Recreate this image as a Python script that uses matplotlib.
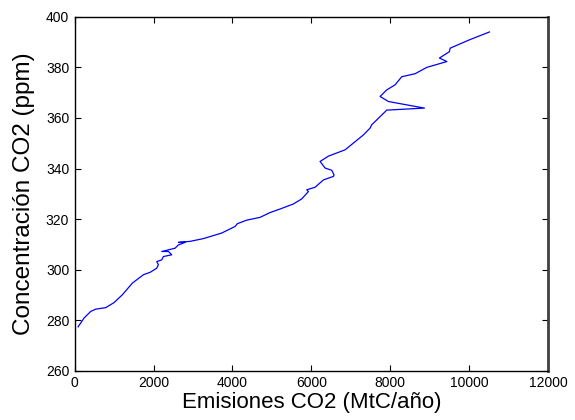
import matplotlib
matplotlib.use("Agg")
from matplotlib import pyplot as plt

plt.rcParams['font.family'] = ['Liberation Sans', 'DejaVu Sans']

# emissions (MtC/yr) vs atmospheric concentration (ppm), in time order
emisiones = [85, 236, 405, 532, 786, 997, 1208, 1461, 1740, 1915, 2079, 2121,
             2079, 2206, 2248, 2460, 2375, 2206, 2544, 2628, 2797, 2628, 2924,
             3262, 3727, 4066, 4125, 4362, 4700, 4953, 5207, 5545, 5757, 5925,
             5883, 6094, 6306, 6559, 6575, 6517, 6348, 6221, 6432, 6855, 7320,
             7489, 7531, 7912, 8867, 7954, 7743, 7912, 8123, 8292, 8631, 8927,
             9435, 9248, 9500, 9519, 10025, 10515]
concentracion = [277.4, 280.9, 283.5, 284.4, 285.0, 287.0, 290.1, 294.7, 298.0,
                 299.0, 300.6, 302.0, 303.2, 303.9, 305.2, 305.9, 307.2, 307.2,
                 308.5, 309.8, 310.8, 310.8, 311.2, 312.3, 314.5, 317.1, 318.2,
                 319.6, 320.7, 322.6, 324.0, 326.0, 328.0, 330.9, 331.6, 332.6,
                 335.5, 336.9, 337.5, 339.3, 340.2, 342.8, 344.9, 347.4, 353.3,
                 356.0, 357.3, 363.1, 363.9, 366.5, 368.5, 371.1, 373.1, 376.3,
                 377.5, 380.0, 382.3, 383.7, 386.2, 387.6, 391.0, 394.0]

xticks = [0, 2000, 4000, 6000, 8000, 10000, 12000]
yticks = [260, 280, 300, 320, 340, 360, 380, 400]

fig = plt.figure(figsize=(5.75, 4.2), dpi=100)
ax = fig.add_axes([0.130, 0.117, 0.823, 0.843])
ax.plot(emisiones, concentracion, color='#0000ff', lw=0.9)

ax.set_xlim(0, 12000)
ax.set_ylim(260, 400)
ax.set_xticks(xticks)
ax.set_yticks(yticks)
ax.tick_params(direction='in', top=True, right=True, length=4, width=0.8,
               labelsize=10, pad=4)
for s in ax.spines.values():
    s.set_linewidth(1.0)
ax.spines['right'].set_linewidth(2.0)
ax.spines['right'].set_color('#404040')

ax.set_xlabel('Emisiones CO2 (MtC/año)', fontsize=16, labelpad=1)
ax.set_ylabel('Concentración CO2 (ppm)', fontsize=17.5, labelpad=8)

fig.savefig('out.png', dpi=100)
